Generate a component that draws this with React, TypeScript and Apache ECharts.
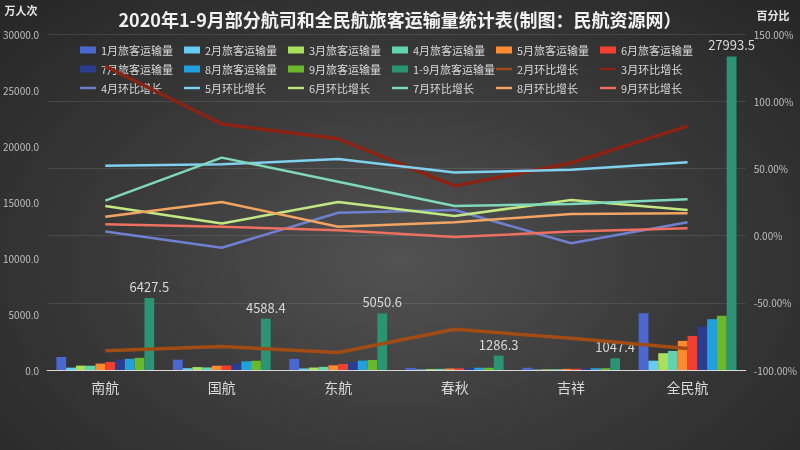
import React, { useEffect, useRef } from "react";
import * as echarts from "echarts";

const categories = ["南航", "国航", "东航", "春秋", "吉祥", "全民航"];

const barNames = [
  "1月旅客运输量", "2月旅客运输量", "3月旅客运输量", "4月旅客运输量", "5月旅客运输量",
  "6月旅客运输量", "7月旅客运输量", "8月旅客运输量", "9月旅客运输量", "1-9月旅客运输量",
];
const jan = [1150, 920, 1000, 190, 205, 5070];
const feb = [210, 160, 140, 50, 40, 830];
const mar = [390, 260, 220, 85, 60, 1500];
const apr = [380, 230, 280, 100, 70, 1700];
const may = [570, 380, 420, 135, 100, 2600];
const jun = [715, 400, 540, 150, 110, 3040];
const jul = [920, 580, 720, 170, 140, 3870];
const aug = [1000, 780, 840, 205, 160, 4540];
const sep = [1090, 830, 890, 200, 160, 4840];
const total = [6427.5, 4588.4, 5050.6, 1286.3, 1047.4, 27993.5];
const barValues = [jan, feb, mar, apr, may, jun, jul, aug, sep, total];
const barColors = [
  "#4b68d2", "#66ccf5", "#a8e05a", "#62d3b0", "#ff8a30",
  "#f04030", "#2a3d8f", "#20a0dd", "#6ab82c", "#2a9474",
];

const lineNames = [
  "2月环比增长", "3月环比增长", "4月环比增长", "5月环比增长",
  "6月环比增长", "7月环比增长", "8月环比增长", "9月环比增长",
];
const febMoM = [-85.6, -82.6, -87, -69.7, -76.4, -84];
const marMoM = [126, 83, 72, 37, 54, 81.5];
const aprMoM = [3, -9, 17, 19, -5.7, 10];
const mayMoM = [52, 53, 57, 47, 49, 54.5];
const junMoM = [22, 9, 25, 14.6, 26.5, 19];
const julMoM = [26, 58, 40, 22, 23.5, 27];
const augMoM = [14, 25, 6.6, 10, 16, 16.6];
const sepMoM = [8.4, 6.6, 4, -1, 3, 5.4];
const lineValues = [febMoM, marMoM, aprMoM, mayMoM, junMoM, julMoM, augMoM, sepMoM];
const lineColors = [
  "#a04c14", "#8c2212", "#7080d0", "#80d0f0",
  "#c2e884", "#80d8bc", "#f2a462", "#ee7060",
];
const lineWidths = [3.5, 3.5, 2.5, 2.5, 2.5, 2.5, 2.5, 2.5];

const leftTicks = { min: 0, max: 30000, interval: 5000 };
const rightTicks = { min: -100, max: 150, interval: 50 };

const FONT = "'Noto Sans CJK SC', 'Noto Sans', sans-serif";
const LINE_ICON = "path://M0,0 M0,2.3 L16,2.3 L16,4.7 L0,4.7 Z M16,7";

export default function App() {
  const ref = useRef<HTMLDivElement>(null);
  useEffect(() => {
    if (!ref.current) return;
    const chart = echarts.init(ref.current, null, { renderer: "svg" });
    const barSeries = barNames.map((name, i) => ({
      name,
      type: "bar",
      yAxisIndex: 0,
      data: barValues[i],
      barGap: "0%",
      barCategoryGap: "16%",
      itemStyle: { color: barColors[i] },
      label:
        i === 9
          ? {
              show: true,
              position: "top",
              distance: 5,
              color: "#d9d9d9",
              fontSize: 13,
              fontFamily: FONT,
            }
          : { show: false },
    }));
    const lineSeries = lineNames.map((name, i) => ({
      name,
      type: "line",
      yAxisIndex: 1,
      data: lineValues[i],
      symbol: "none",
      z: 5,
      lineStyle: { color: lineColors[i], width: lineWidths[i] },
      itemStyle: { color: lineColors[i] },
    }));
    chart.setOption({
      animation: false,
      textStyle: { fontFamily: FONT },
      title: {
        text: "2020年1-9月部分航司和全民航旅客运输量统计表(制图：民航资源网）",
        left: "center",
        top: 10,
        padding: 0,
        textStyle: { color: "#f2f2f2", fontSize: 18, fontWeight: "bold", fontFamily: FONT },
      },
      graphic: [
        {
          type: "text",
          x: 21,
          y: 10,
          style: {
            text: "万人次",
            fill: "#e6e6e6",
            font: "bold 11px " + FONT,
            align: "center",
            verticalAlign: "middle",
          },
        },
        {
          type: "text",
          x: 773,
          y: 15,
          style: {
            text: "百分比",
            fill: "#e6e6e6",
            font: "bold 11px " + FONT,
            align: "center",
            verticalAlign: "middle",
          },
        },
      ],
      legend: {
        left: 80,
        top: 41,
        width: 640,
        padding: 0,
        itemWidth: 16,
        itemHeight: 7,
        itemGap: 1,
        textStyle: {
          color: "#d9d9d9",
          fontSize: 11,
          width: 82,
          lineHeight: 18,
          fontFamily: FONT,
        },
        data: [
          ...barNames.map((n) => ({ name: n, icon: "rect" })),
          ...lineNames.map((n) => ({ name: n, icon: LINE_ICON })),
        ],
      },
      grid: { left: 46, right: 51, top: 34, bottom: 80, containLabel: false },
      xAxis: {
        type: "category",
        data: categories,
        axisLine: { show: true, lineStyle: { color: "#d9d9d9", width: 1 } },
        axisTick: { show: false },
        axisLabel: { color: "#d9d9d9", fontSize: 14, margin: 10, fontFamily: FONT },
      },
      yAxis: [
        {
          type: "value",
          min: leftTicks.min,
          max: leftTicks.max,
          interval: leftTicks.interval,
          splitLine: { show: false },
          axisLine: { show: false },
          axisTick: { show: false },
          axisLabel: {
            color: "#bfbfbf",
            fontSize: 10,
            margin: 8,
            formatter: (v: number) => v.toFixed(1),
          },
        },
        {
          type: "value",
          min: rightTicks.min,
          max: rightTicks.max,
          interval: rightTicks.interval,
          splitLine: { show: true, lineStyle: { color: "rgba(255,255,255,0.1)", width: 1 } },
          axisLine: { show: false },
          axisTick: { show: false },
          axisLabel: {
            color: "#bfbfbf",
            fontSize: 10,
            margin: 8,
            formatter: (v: number) => v.toFixed(2) + "%",
          },
        },
      ],
      series: [...barSeries, ...lineSeries],
    });
    return () => chart.dispose();
  }, []);
  return (
    <div
      ref={ref}
      style={{
        position: "fixed",
        left: 0,
        top: 0,
        width: 800,
        height: 450,
        background: "radial-gradient(ellipse at 50% 58%, #525252 0%, #3c3c3c 45%, #262626 100%)",
      }}
    />
  );
}
